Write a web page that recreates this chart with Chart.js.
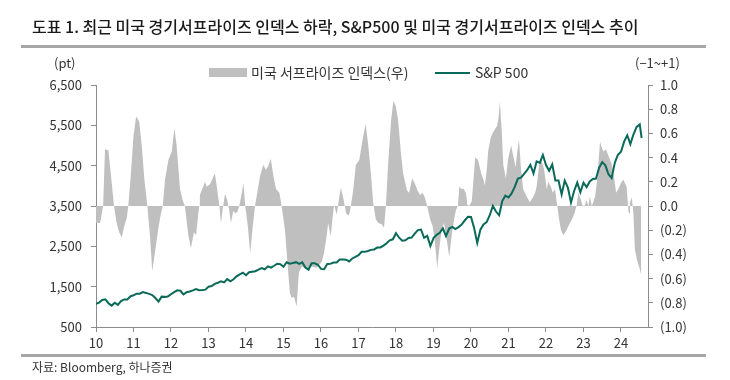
<!DOCTYPE html>
<html>
<head>
<meta charset="utf-8">
<script src="https://cdn.jsdelivr.net/npm/chart.js@4"></script>
<style>
  body { margin: 0; background: #fff; }
  #wrap { position: relative; width: 730px; height: 380px; font-family: "Noto Sans CJK KR", "Noto Sans", sans-serif; color: #333; }
  #wrap canvas { position: absolute; left: 0; top: 0; }
  .txt { position: absolute; white-space: nowrap; line-height: 1; }
  .title { left: 32px; top: 18px; font-size: 16px; font-weight: 500; color: #1a1a1a; }
  .rule { position: absolute; left: 21px; width: 685px; height: 3px; background: #a6a6a6; }
  .box { position: absolute; background: #bfbfbf; }
  .ln { position: absolute; background: #096a59; }
</style>
</head>
<body>
<div id="wrap">
  <canvas id="chart" width="730" height="380"></canvas>
  <div class="txt title">도표 1. 최근 미국 경기서프라이즈 인덱스 하락, S&amp;P500 및 미국 경기서프라이즈 인덱스 추이</div>
  <div class="rule" style="top:45px"></div>
  <div class="rule" style="top:354px"></div>
  <div class="txt" style="left:54px; top:56px; font-size:13px;">(pt)</div>
  <div class="txt" style="left:635px; top:56px; font-size:13px;">(−1~+1)</div>
  <div class="box" style="left:209px; top:68px; width:38px; height:9px;"></div>
  <div class="txt" style="left:251px; top:65px; font-size:14px;">미국 서프라이즈 인덱스(우)</div>
  <div class="ln" style="left:435px; top:72px; width:35px; height:2px;"></div>
  <div class="txt" style="left:475px; top:65px; font-size:14px;">S&amp;P 500</div>
  <div class="txt" style="left:32px; top:361px; font-size:12px;">자료: Bloomberg, 하나증권</div>
</div>
<script>
// S&P 500 monthly closes, Jan 2010 .. Jul 2024, last point early Aug 2024
const spxValues = [
  1074, 1104, 1169, 1187, 1089, 1031, 1102, 1049, 1141, 1183, 1181, 1258,
  1286, 1327, 1326, 1364, 1345, 1321, 1292, 1219, 1131, 1253, 1247, 1258,
  1312, 1366, 1408, 1398, 1310, 1362, 1379, 1407, 1441, 1412, 1416, 1426,
  1498, 1515, 1569, 1598, 1631, 1606, 1686, 1633, 1682, 1757, 1806, 1848,
  1783, 1859, 1872, 1884, 1924, 1960, 1931, 2003, 1972, 2018, 2068, 2059,
  1995, 2105, 2068, 2086, 2107, 2063, 2104, 1972, 1920, 2079, 2080, 2044,
  1940, 1932, 2060, 2065, 2097, 2099, 2174, 2171, 2168, 2126, 2199, 2239,
  2279, 2364, 2363, 2384, 2412, 2423, 2470, 2472, 2519, 2575, 2648, 2674,
  2824, 2714, 2641, 2648, 2705, 2718, 2816, 2902, 2914, 2712, 2760, 2507,
  2704, 2784, 2834, 2946, 2752, 2942, 2980, 2926, 2977, 3038, 3141, 3231,
  3226, 2954, 2585, 2912, 3044, 3100, 3271, 3500, 3363, 3270, 3622, 3756,
  3714, 3811, 3973, 4181, 4204, 4298, 4395, 4523, 4308, 4605, 4567, 4766,
  4516, 4374, 4530, 4132, 4132, 3785, 4130, 3955, 3586, 3872, 4080, 3840,
  4077, 3970, 4109, 4169, 4180, 4450, 4589, 4508, 4288, 4194, 4568, 4770,
  4846, 5096, 5254, 5036, 5278, 5460, 5522, 5186
];
const spxStartYear = 2010;
const spxLastDate = 2024.55;

// US economic surprise index (right axis)
const surpriseDates = [
  2010.00, 2010.11, 2010.19, 2010.24, 2010.33, 2010.40, 2010.48, 2010.55, 2010.62, 2010.69,
  2010.75, 2010.82, 2010.86, 2010.92, 2011.00, 2011.07, 2011.15, 2011.22, 2011.29, 2011.37,
  2011.44, 2011.50, 2011.57, 2011.66, 2011.72, 2011.78, 2011.84, 2011.93, 2012.02, 2012.09,
  2012.15, 2012.24, 2012.31, 2012.37, 2012.46, 2012.53, 2012.61, 2012.67, 2012.75, 2012.77,
  2012.91, 2012.95, 2013.04, 2013.17, 2013.23, 2013.29, 2013.33, 2013.39, 2013.44, 2013.50,
  2013.55, 2013.60, 2013.66, 2013.71, 2013.77, 2013.82, 2013.89, 2013.93, 2013.98, 2014.05,
  2014.11, 2014.18, 2014.24, 2014.30, 2014.37, 2014.46, 2014.53, 2014.59, 2014.66, 2014.73,
  2014.80, 2014.89, 2014.95, 2015.04, 2015.10, 2015.17, 2015.22, 2015.28, 2015.35, 2015.41,
  2015.49, 2015.62, 2015.75, 2015.88, 2016.02, 2016.08, 2016.15, 2016.19, 2016.26, 2016.31,
  2016.35, 2016.42, 2016.49, 2016.53, 2016.59, 2016.67, 2016.73, 2016.77, 2016.85, 2016.93,
  2017.02, 2017.11, 2017.19, 2017.26, 2017.33, 2017.39, 2017.46, 2017.53, 2017.62, 2017.68,
  2017.73, 2017.79, 2017.87, 2017.93, 2018.00, 2018.06, 2018.13, 2018.19, 2018.29, 2018.35,
  2018.43, 2018.51, 2018.57, 2018.64, 2018.71, 2018.77, 2018.83, 2018.91, 2018.98, 2019.04,
  2019.10, 2019.15, 2019.22, 2019.28, 2019.35, 2019.42, 2019.49, 2019.55, 2019.60, 2019.65,
  2019.69, 2019.75, 2019.81, 2019.87, 2019.90, 2019.95, 2020.02, 2020.06, 2020.11, 2020.19,
  2020.27, 2020.33, 2020.37, 2020.42, 2020.46, 2020.53, 2020.59, 2020.69, 2020.73, 2020.77,
  2020.82, 2020.86, 2020.93, 2020.99, 2021.07, 2021.13, 2021.19, 2021.23, 2021.28, 2021.33,
  2021.39, 2021.48, 2021.57, 2021.65, 2021.71, 2021.75, 2021.82, 2021.88, 2021.95, 2022.02,
  2022.06, 2022.13, 2022.18, 2022.24, 2022.30, 2022.35, 2022.40, 2022.46, 2022.53, 2022.62,
  2022.71, 2022.77, 2022.82, 2022.86, 2022.91, 2022.97, 2023.02, 2023.08, 2023.13, 2023.17,
  2023.22, 2023.26, 2023.31, 2023.35, 2023.39, 2023.44, 2023.48, 2023.53, 2023.60, 2023.66,
  2023.75, 2023.81, 2023.87, 2023.93, 2024.00, 2024.06, 2024.15, 2024.20, 2024.22, 2024.24,
  2024.29, 2024.33, 2024.37, 2024.43, 2024.49, 2024.54
];
const surpriseValues = [
  -0.14, -0.14, 0.00, 0.47, 0.46, 0.25, 0.00, -0.14, -0.22, -0.26,
  -0.17, -0.10, 0.00, 0.22, 0.58, 0.74, 0.70, 0.50, 0.22, 0.00,
  -0.25, -0.54, -0.39, -0.19, -0.08, 0.00, 0.22, 0.38, 0.45, 0.64,
  0.50, 0.14, 0.05, 0.00, -0.24, -0.35, -0.22, -0.24, 0.00, 0.09,
  0.20, 0.16, 0.18, 0.27, 0.14, 0.00, -0.14, 0.00, 0.10, 0.05,
  -0.03, -0.14, -0.04, -0.06, -0.05, 0.00, 0.11, 0.19, 0.00, -0.17,
  -0.39, -0.17, 0.00, 0.11, 0.24, 0.34, 0.30, 0.33, 0.39, 0.25,
  0.14, 0.11, 0.00, -0.20, -0.45, -0.72, -0.76, -0.75, -0.83, -0.55,
  -0.50, -0.52, -0.50, -0.51, -0.46, -0.39, -0.25, -0.14, -0.25, -0.09,
  0.01, -0.07, 0.08, 0.15, 0.07, -0.06, -0.08, -0.05, 0.11, 0.34,
  0.38, 0.55, 0.68, 0.50, 0.27, 0.03, -0.11, -0.14, -0.15, -0.18,
  0.00, 0.35, 0.71, 0.87, 0.82, 0.70, 0.44, 0.27, 0.13, 0.11,
  0.23, 0.18, 0.13, 0.09, 0.11, 0.07, 0.00, -0.11, -0.17, -0.31,
  -0.51, -0.36, -0.19, -0.14, -0.27, -0.42, -0.23, -0.11, -0.03, 0.00,
  0.16, 0.14, 0.14, 0.10, 0.01, 0.00, 0.04, 0.19, 0.40, 0.38,
  0.27, 0.22, 0.17, 0.30, 0.46, 0.57, 0.61, 0.66, 0.72, 0.86,
  0.62, 0.34, 0.23, 0.39, 0.50, 0.41, 0.32, 0.44, 0.55, 0.32,
  0.14, 0.08, 0.03, 0.07, 0.11, 0.16, 0.35, 0.38, 0.30, 0.14,
  0.20, 0.16, 0.11, 0.14, 0.00, -0.11, -0.20, -0.24, -0.21, -0.15,
  -0.10, -0.05, 0.01, 0.11, 0.07, 0.01, -0.01, 0.05, 0.00, 0.08,
  0.00, 0.03, 0.08, 0.18, 0.32, 0.53, 0.49, 0.45, 0.47, 0.42,
  0.35, 0.25, 0.11, 0.14, 0.19, 0.22, 0.16, -0.05, -0.06, 0.03,
  0.07, -0.06, -0.36, -0.45, -0.51, -0.57
];

const xMin = 2010;
const xMax = 2024.72;

const spxPoints = spxValues.map((v, i) => ({
  x: i === spxValues.length - 1 ? spxLastDate : spxStartYear + i / 12,
  y: v
}));
const surprisePoints = surpriseDates.map((d, i) => ({ x: d, y: surpriseValues[i] }));

const axisGrey = '#8c8c8c';
const tickFont = { family: '"Noto Sans CJK KR", "Noto Sans", sans-serif', size: 13 };

const ctx = document.getElementById('chart').getContext('2d');
new Chart(ctx, {
  type: 'line',
  data: {
    datasets: [{
      label: 'S&P 500',
      data: spxPoints,
      yAxisID: 'y',
      borderColor: '#096a59',
      borderWidth: 2,
      pointRadius: 0,
      tension: 0,
      fill: false,
      order: 0
    }, {
      label: '미국 서프라이즈 인덱스(우)',
      data: surprisePoints,
      yAxisID: 'y2',
      borderWidth: 0,
      borderColor: 'rgba(0,0,0,0)',
      backgroundColor: '#bfbfbf',
      pointRadius: 0,
      tension: 0,
      fill: 'origin',
      order: 1
    }]
  },
  options: {
    responsive: false,
    animation: false,
    layout: { padding: { top: 85, left: 0, right: 0, bottom: 0 } },
    plugins: {
      legend: { display: false },
      tooltip: { enabled: false }
    },
    scales: {
      x: {
        type: 'linear',
        min: xMin,
        max: xMax,
        afterFit: s => { s.height = 53; },
        border: { display: true, color: axisGrey },
        grid: { drawOnChartArea: false, drawTicks: true, tickLength: 5, color: axisGrey },
        ticks: {
          stepSize: 1,
          includeBounds: false,
          autoSkip: false,
          maxRotation: 0,
          padding: 3,
          color: '#333',
          font: tickFont,
          callback: v => String(v).slice(2)
        }
      },
      y: {
        position: 'left',
        min: 500,
        max: 6500,
        afterFit: s => { s.width = 96; },
        border: { display: true, color: axisGrey },
        grid: { drawOnChartArea: false, drawTicks: true, tickLength: 5, color: axisGrey },
        ticks: {
          stepSize: 1000,
          padding: 9,
          color: '#333',
          font: tickFont,
          callback: v => v.toLocaleString('en-US')
        }
      },
      y2: {
        position: 'right',
        min: -1,
        max: 1,
        afterFit: s => { s.width = 82; },
        border: { display: true, color: axisGrey },
        grid: { drawOnChartArea: false, drawTicks: true, tickLength: 5, color: axisGrey },
        ticks: {
          stepSize: 0.2,
          padding: 7,
          color: '#333',
          font: tickFont,
          callback: v => v < -1e-9 ? '(' + Math.abs(v).toFixed(1) + ')' : Math.abs(v).toFixed(1)
        }
      }
    }
  }
});
</script>
</body>
</html>
